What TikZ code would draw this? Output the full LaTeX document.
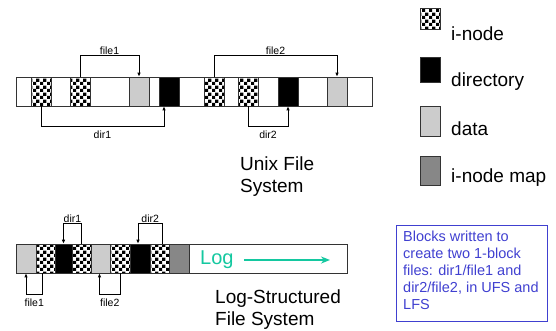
\documentclass[tikz,border=0pt]{standalone}
\usepackage{fontspec}
\setmainfont{Liberation Sans}
\usepackage{tikz}
\usetikzlibrary{arrows.meta,%
                patterns,%
                positioning}
\definecolor{logcol}{RGB}{20,200,160}
\definecolor{notecol}{RGB}{64,64,208}
% small checker for the i-nodes
\pgfdeclarepatternformonly{chk}{\pgfqpoint{0pt}{0pt}}{\pgfqpoint{6.6pt}{6.6pt}}{\pgfqpoint{6.6pt}{6.6pt}}{%
	\pgfpathrectangle{\pgfpointorigin}{\pgfqpoint{3.3pt}{3.3pt}}%
	\pgfpathrectangle{\pgfqpoint{3.3pt}{3.3pt}}{\pgfqpoint{3.3pt}{3.3pt}}%
	\pgfusepath{fill}}
\tikzset{
	blk/.style = {draw=black!80,line width=0.6pt,minimum width=20pt,minimum height=29pt,inner sep=0pt},
	inode/.style = {blk,pattern=chk},
	dirblk/.style = {blk,fill=black},
	datablk/.style = {blk,fill=black!20},
	mapblk/.style = {blk,fill=black!47},
	bar/.style = {draw=black!80,line width=0.6pt,fill=white,inner sep=0pt},
	ptr/.style = {line width=1pt,-{Latex[length=4pt,width=3.5pt]}},
	lbl/.style = {font=\fontsize{10.5}{12}\selectfont,inner sep=1pt},
	big/.style = {font=\fontsize{19}{22}\selectfont,align=left,inner sep=0pt},
}
\begin{document}
\begin{tikzpicture}[x=1pt,y=-1pt]
		\useasboundingbox (0,0) rectangle (556,330);
		% unix file system
		\node[bar,minimum width=356pt,minimum height=29pt] (ufs) at (194,91.5) {};
		\node[inode] (u1) at (41,91.5) {};
		\node[inode] (u2) at (80,91.5) {};
		\node[datablk] (u3) at (139,91.5) {};
		\node[dirblk] (u4) at (169,91.5) {};
		\node[inode] (u5) at (214,91.5) {};
		\node[inode] (u6) at (248,91.5) {};
		\node[dirblk] (u7) at (288,91.5) {};
		\node[datablk] (u8) at (337,91.5) {};
		\draw[ptr] (u2.north) -- ++(0,-21) -| node[lbl,above,pos=0.25] (uf1) {file1} (u3.north);
		\draw[ptr] (u5.north) -- ++(0,-21) -| node[lbl,above,pos=0.25] (uf2) {file2} (u8.north);
		\draw[ptr] (u1.south) -- ++(0,20) -| node[lbl,below=3pt,pos=0.25] (ud1) {dir1} ([xshift=-5pt]u4.south);
		\draw[ptr] (u6.south) -- ++(0,20) -| node[lbl,below=3pt,pos=0.25] (ud2) {dir2} (u7.south);
		\node[big,anchor=north west] (utxt) at (240,157) {Unix File\\System};
		% log-structured file system
		\node[bar,minimum width=331pt,minimum height=29pt] (lfs) at (181.5,258.5) {};
		\node[datablk] (l1) at (26,258.5) {};
		\node[inode,minimum width=19pt] (l2) at (45.5,258.5) {};
		\node[dirblk,minimum width=17pt] (l3) at (63.5,258.5) {};
		\node[inode,minimum width=19pt] (l4) at (81.5,258.5) {};
		\node[datablk,minimum width=19pt] (l5) at (100.5,258.5) {};
		\node[inode] (l6) at (120,258.5) {};
		\node[dirblk] (l7) at (140,258.5) {};
		\node[inode,minimum width=19pt] (l8) at (159.5,258.5) {};
		\node[mapblk] (l9) at (179,258.5) {};
		\draw[ptr] (l4.north) -- ++(0,-20) -| node[lbl,above,pos=0.25] (ld1) {dir1} (l3.north);
		\draw[ptr] ([xshift=3pt]l8.north) -- ++(0,-20) -| node[lbl,above,pos=0.25] (ld2) {dir2} ([xshift=-2pt]l7.north);
		\draw[ptr] ([xshift=-3pt]l2.south) -- ++(0,21) -| node[lbl,below=3pt,pos=0.25] (lf1) {file1} (l1.south);
		\draw[ptr] (l6.south) -- ++(0,21) -| node[lbl,below=3pt,pos=0.25] (lf2) {file2} ([xshift=-1pt]l5.south);
		\node[text=logcol,font=\fontsize{20}{24}\selectfont,inner sep=0pt,anchor=west] (logt) at (200,260) {Log};
		\coordinate (logend) at (330,260);
		\draw[logcol,line width=1.6pt,-{Stealth[length=9pt,width=7pt]}] ([xshift=10pt]logt.east) -- (logend);
		\node[big,anchor=north west] (ltxt) at (215,290) {Log-Structured\\File System};
		% legend
		\node[inode,minimum height=21pt] (k1) at (430,18.5) {};
		\node[dirblk,minimum height=25pt] (k2) at (430,69.5) {};
		\node[datablk,minimum height=30pt] (k3) at (430,121) {};
		\node[mapblk] (k4) at (430,170.5) {};
		\node[big,anchor=west] at (451,34) {i-node};
		\node[big,anchor=west] at (451,82) {directory};
		\node[big,anchor=west] at (451,129) {data};
		\node[big,anchor=west] at (451,178) {i-node map};
		% note
		\node[draw=notecol,line width=1pt,anchor=north west,minimum width=151pt,minimum height=96pt] (note) at (396,225) {};
		\node[text=notecol,anchor=north west,inner sep=0pt,align=left,font=\fontsize{14.5}{17}\selectfont] (notetxt) at (403,231)
			{Blocks written to\\create two 1-block\\files: dir1/file1 and\\dir2/file2, in UFS and\\LFS};
	\end{tikzpicture}
\end{document}
